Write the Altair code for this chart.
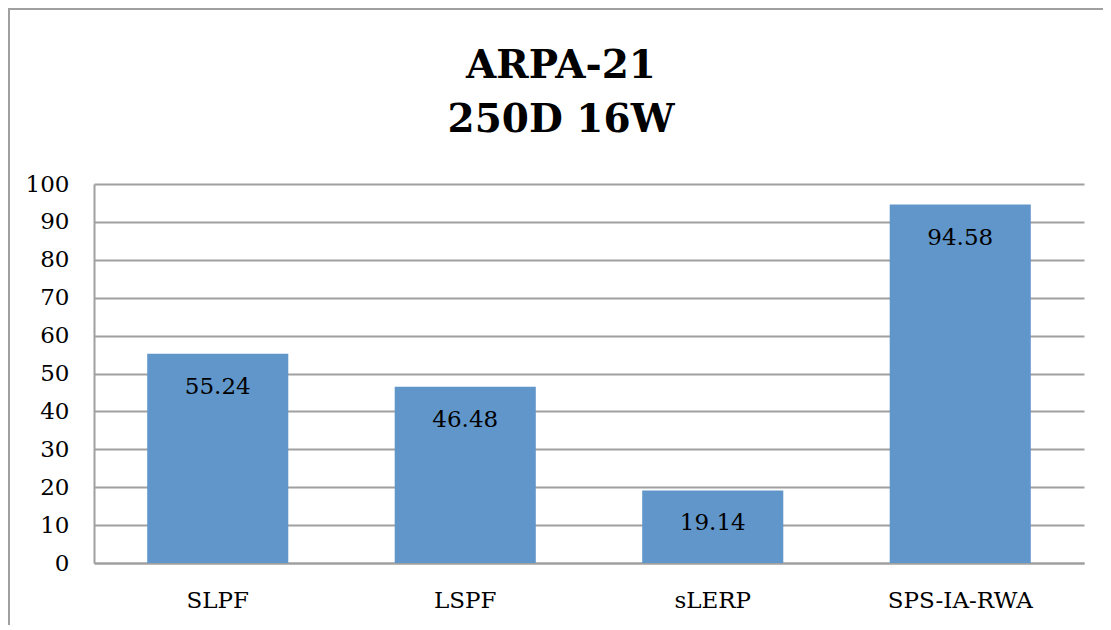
import altair as alt
import pandas as pd

categories = ["SLPF", "LSPF", "sLERP", "SPS-IA-RWA"]
values = [55.24, 46.48, 19.14, 94.58]
title_lines = ["ARPA-21", "250D 16W"]
y_ticks = list(range(0, 101, 10))

df = pd.DataFrame({"cat": categories, "val": values})
df["label"] = [f"{v:.2f}" for v in values]

FONT = "DejaVu Serif"
GRAY = "#A0A0A0"

x_enc = alt.X("cat:N", sort=categories, title=None,
              scale=alt.Scale(paddingInner=0.43, paddingOuter=0.215),
              axis=alt.Axis(labelAngle=0, ticks=False, domainColor=GRAY, domainWidth=2,
                            labelFont=FONT, labelFontSize=23, labelColor="#000000",
                            labelPadding=26, grid=False))
y_enc = alt.Y("val:Q", title=None,
              scale=alt.Scale(domain=[0, 100], nice=False),
              axis=alt.Axis(values=y_ticks, ticks=False, domainColor=GRAY, domainWidth=2,
                            gridColor=GRAY, gridWidth=2, labelFont=FONT, labelFontSize=23,
                            labelOverlap=False, labelColor="#000000", labelPadding=25))

base = alt.Chart(df).encode(x=x_enc, y=y_enc)
bars = base.mark_bar(color="#6096CA")
labels = base.mark_text(font=FONT, fontSize=23, color="#000000", dy=33, baseline="middle").encode(
    text="label:N")

frame = alt.Chart(pd.DataFrame({"a": [0]})).mark_rect(
    fill="transparent", stroke=GRAY, strokeWidth=2).encode(
    x=alt.value(-85), x2=alt.value(1200), y=alt.value(-175), y2=alt.value(700))

chart = alt.layer(frame, bars, labels).properties(
    width=990, height=379,
    padding={"left": 86, "top": 176, "right": 19, "bottom": 62},
    autosize=alt.AutoSizeParams(type="none"),
    title=alt.TitleParams(text=title_lines, font=FONT, fontSize=39, fontWeight="bold",
                          lineHeight=54, anchor="middle", dx=-28, offset=-132, color="#000000"),
).configure_view(stroke=None)

chart.save("out.html", embed_options={"renderer": "svg", "actions": False})
